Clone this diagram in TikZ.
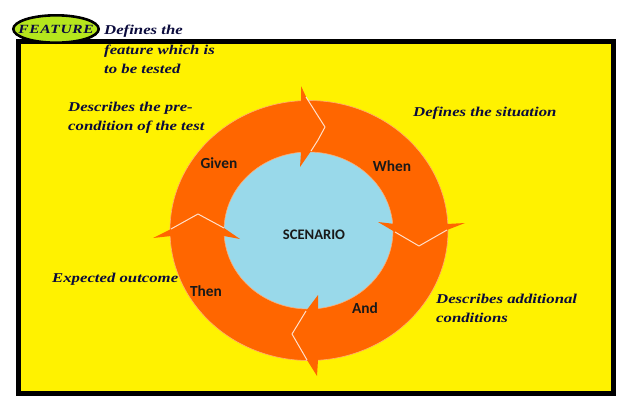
\documentclass[tikz,border=0pt]{standalone}
\usepackage{fontspec}
\setmainfont{Liberation Serif}
\newfontfamily\handfont{Liberation Serif}[FakeStretch=1.24]
\newfontfamily\labelfont{Carlito}
\usetikzlibrary{shapes.geometric}
\definecolor{framefill}{HTML}{FFF200}
\definecolor{ringorange}{HTML}{FF6600}
\definecolor{hubblue}{HTML}{99D9EA}
\definecolor{taglime}{HTML}{B5E61D}
\definecolor{inkblue}{HTML}{0A0A3C}
\tikzset{
  note/.style={anchor=north west,inner sep=0pt,align=left,text=inkblue,
    font=\handfont\bfseries\itshape\fontsize{13.5}{19.3}\selectfont},
  steplabel/.style={inner sep=0pt,text=black!90,font=\labelfont\bfseries\fontsize{15.4}{17}\selectfont},
  arrowfill/.style={fill=ringorange,draw=none},
  arrowedge/.style={draw=white!80!ringorange,line width=1pt,line join=round},
  ringedge/.style={draw=white!45!ringorange,line width=0.6pt},
}
\begin{document}
\begin{tikzpicture}[x=1pt,y=-1pt]
\useasboundingbox (0,0) rectangle (628,410);
\fill[white] (0,0) rectangle (628,410);
% frame
\draw[fill=framefill,draw=black,line width=5pt] (18.5,41.5) rectangle (613.5,393.5);
% ring and hub
\path[fill=ringorange,ringedge] (309,230.5) ellipse [x radius=139,y radius=130];
\path[fill=hubblue,ringedge] (308.5,230.5) ellipse [x radius=84.5,y radius=78.5];
% top arrow head
\fill[arrowfill] (301,86) -- (308,101) -- (325,127) -- (311,151) -- (300,167) -- (301,152) -- (296,125) -- (301,101) -- cycle;
\draw[arrowedge] (306,97) -- (318,116) -- (325,127) -- (318,140) -- (311,151);
% right arrow head
\fill[arrowfill] (465,223) -- (447,230) -- (419,246) -- (395,232) -- (378,222) -- (395,224) -- (420,215) -- (447,224) -- cycle;
\draw[arrowedge] (447,230) -- (419,246) -- (395,232);
% bottom arrow head
\fill[arrowfill] (317,376) -- (307,360) -- (292,334) -- (306,311) -- (318,295) -- (318,310) -- (325,335) -- (318,360) -- cycle;
\draw[arrowedge] (307,360) -- (292,334) -- (306,311);
% left arrow head
\fill[arrowfill] (153,238) -- (171,229) -- (198,214) -- (224,228) -- (240,239) -- (224,236) -- (198,245) -- (171,236) -- cycle;
\draw[arrowedge] (171,229) -- (198,214) -- (224,228);
% ring labels
\node[steplabel] (given) at (219,163.5) {Given};
\node[steplabel] (when) at (392,166.5) {When};
\node[steplabel] (then) at (206,291.5) {Then};
\node[steplabel] (and) at (365,308.5) {And};
\node[steplabel,font=\labelfont\bfseries\fontsize{14.6}{17}\selectfont] (scenario) at (314,234.5) {SCENARIO};
% tag
\node[draw=black,line width=2.6pt,fill=taglime,ellipse,minimum width=85.4pt,minimum height=27.4pt,inner sep=0pt,
  text=inkblue,font=\handfont\bfseries\itshape\fontsize{12.5}{13}\selectfont\addfontfeature{LetterSpace=5}] (feature) at (56,29) {\makebox[0pt]{FEATURE}};
% notes
\node[note] (n1) at (104,25) {Defines the\\feature which is\\to be tested};
\node[note] (n2) at (68,102) {Describes the pre-\\condition of the test};
\node[note] (n3) at (413,107) {Defines the situation};
\node[note] (n4) at (52,273) {Expected outcome};
\node[note] (n5) at (436,294) {Describes additional\\conditions};
\end{tikzpicture}
\end{document}
